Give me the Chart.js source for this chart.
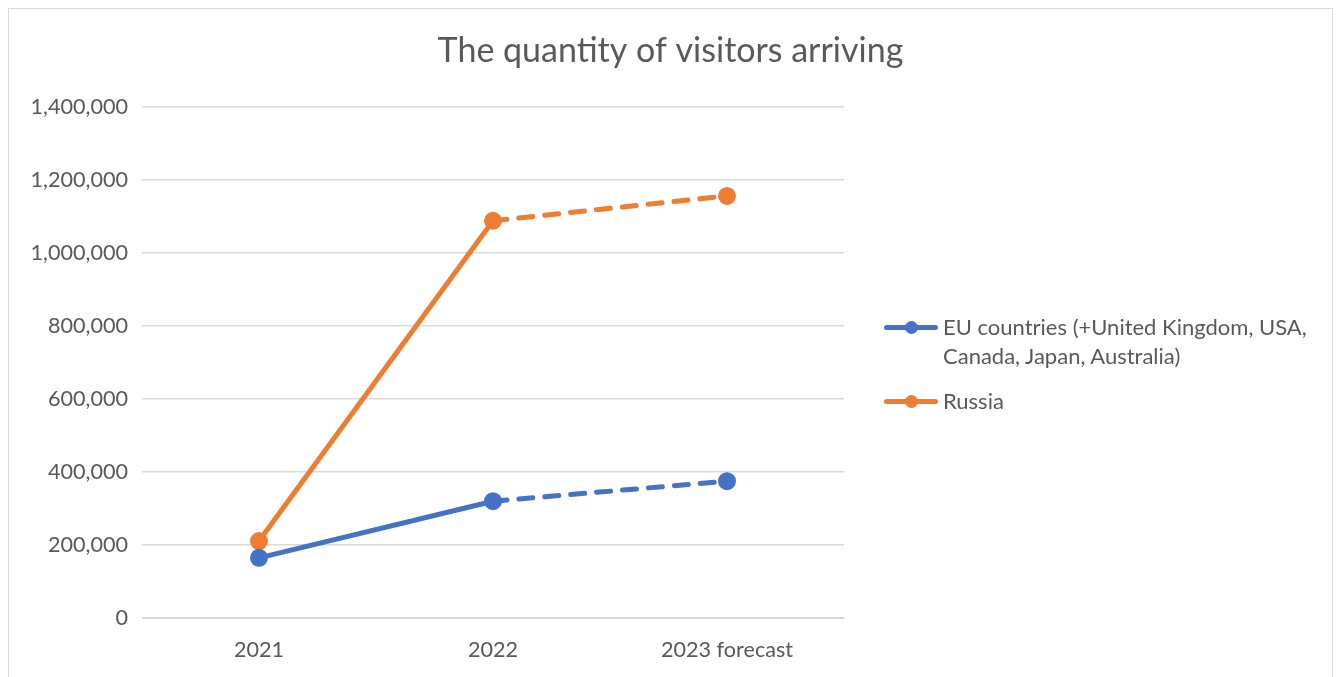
<!DOCTYPE html>
<html>
<head>
<meta charset="utf-8">
<script src="https://cdn.jsdelivr.net/npm/chart.js@4"></script>
<style>
  html, body { margin: 0; padding: 0; background: #fff; }
  #box { position: absolute; left: 8px; top: 8px; width: 1323px; height: 680px; border: 1px solid #d9d9d9; }
  #chartLine { position: absolute; left: 0; top: 0; }
  #legend { position: absolute; left: 875px; top: 303px; font-family: Lato, "Open Sans", sans-serif; font-size: 22px; color: #595959; }
  .item { position: relative; padding-left: 59px; line-height: 29px; margin-bottom: 16px; }
  .item .ln { position: absolute; left: 0; top: 13px; width: 54px; height: 5px; border-radius: 3px; }
  .item .pt { position: absolute; left: 21px; top: 9px; width: 13px; height: 13px; border-radius: 50%; }
</style>
</head>
<body>
<div id="box">
  <canvas id="chartLine" width="1323" height="668"></canvas>
  <div id="legend"></div>
</div>
<script>
var categories = ["2021", "2022", "2023 forecast"];
var euValues = [165000, 320000, 375000];
var russiaValues = [211000, 1088000, 1156000];
var seriesNames = ["EU countries (+United Kingdom, USA,\nCanada, Japan, Australia)", "Russia"];
var seriesColors = ["#4472C4", "#ED7D31"];

document.addEventListener("DOMContentLoaded", function () {

    var forecastDash = function (ctx) {
        return ctx.p0DataIndex === 1 ? [14, 12] : undefined;
    };

    function makeSet(label, values, color) {
        return {
            label: label,
            data: values,
            borderColor: color,
            backgroundColor: color,
            borderWidth: 5,
            borderCapStyle: 'round',
            pointRadius: 6.5,
            pointHoverRadius: 6.5,
            tension: 0,
            segment: { borderDash: forecastDash }
        };
    }

    new Chart(document.getElementById('chartLine'), {
        type: 'line',
        data: {
            labels: categories,
            datasets: [
                makeSet(seriesNames[0], euValues, seriesColors[0]),
                makeSet(seriesNames[1], russiaValues, seriesColors[1])
            ]
        },
        options: {
            responsive: false,
            animation: false,
            layout: { padding: { left: 0, right: 0, top: 0, bottom: -5 } },
            plugins: {
                legend: { display: false },
                tooltip: { enabled: false },
                title: {
                    display: true,
                    text: 'The quantity of visitors arriving',
                    color: '#595959',
                    font: { family: 'Lato, "Open Sans", sans-serif', size: 34, weight: 'normal' },
                    padding: { top: 22, bottom: 35 }
                }
            },
            scales: {
                x: {
                    offset: true,
                    grid: { display: false, drawTicks: false },
                    border: { color: '#d9d9d9', width: 1 },
                    ticks: { color: '#595959', padding: 19, font: { family: 'Lato, sans-serif', size: 21.6 } }
                },
                y: {
                    min: 0,
                    max: 1400000,
                    afterFit: function (scale) { scale.width = 133; },
                    grid: { color: '#d9d9d9', lineWidth: 1.5, drawTicks: false },
                    border: { display: false },
                    ticks: {
                        stepSize: 200000,
                        padding: 14,
                        color: '#595959',
                        font: { family: 'Lato, sans-serif', size: 21.6 },
                        callback: function (v) { return v.toLocaleString('en-US'); }
                    }
                },
                // empty right-hand axis keeps room for the legend while the title stays centred on the whole box
                yRight: {
                    position: 'right',
                    display: true,
                    afterFit: function (scale) { scale.width = 488; },
                    grid: { display: false, drawTicks: false },
                    border: { display: false },
                    ticks: { display: false }
                }
            }
        }
    });

    var legend = document.getElementById('legend');
    seriesNames.forEach(function (name, i) {
        var item = document.createElement('div');
        item.className = 'item';
        item.innerHTML = '<span class="ln" style="background:' + seriesColors[i] + '"></span>' +
            '<span class="pt" style="background:' + seriesColors[i] + '"></span>' +
            name.replace('\n', '<br>');
        legend.appendChild(item);
    });
});
</script>
</body>
</html>
